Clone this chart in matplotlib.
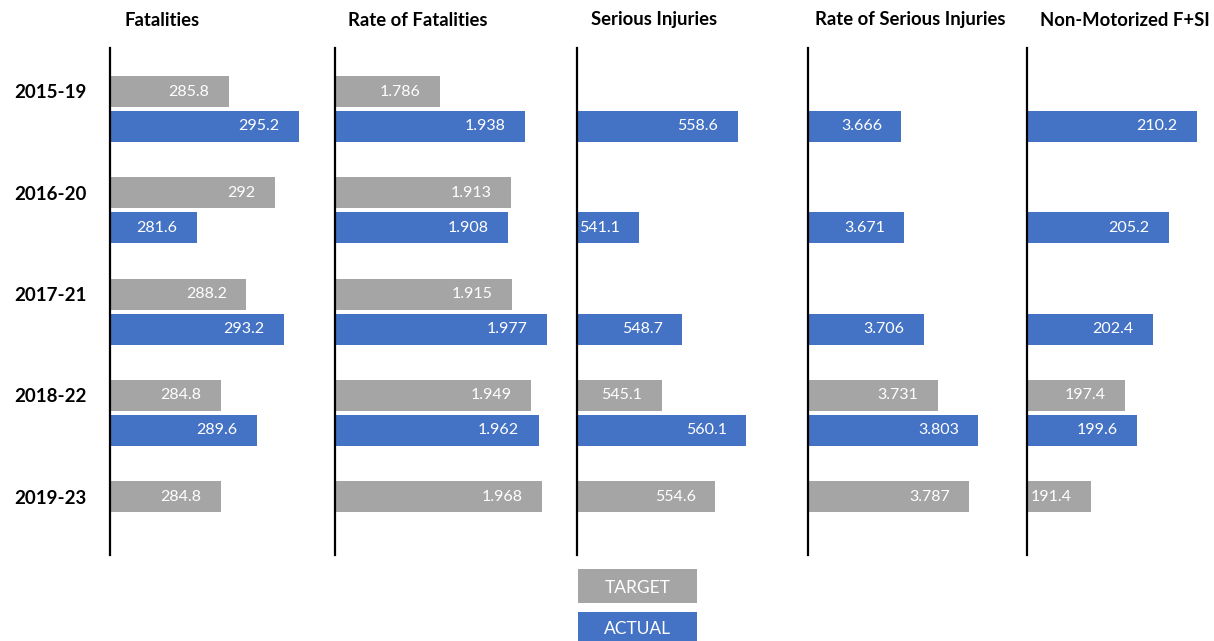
import matplotlib
matplotlib.use("Agg")
import matplotlib.pyplot as plt
from matplotlib.patches import Rectangle
import numpy as np

plt.rcParams['font.family'] = ['Lato', 'DejaVu Sans']

periods = ["2015-19", "2016-20", "2017-21", "2018-22", "2019-23"]
titles = ["Fatalities", "Rate of Fatalities", "Serious Injuries",
          "Rate of Serious Injuries", "Non-Motorized F+SI"]

fat_target = [285.8, 292, 288.2, 284.8, 284.8]
fat_actual = [295.2, 281.6, 293.2, 289.6, None]
rfat_target = [1.786, 1.913, 1.915, 1.949, 1.968]
rfat_actual = [1.938, 1.908, 1.977, 1.962, None]
si_target = [None, None, None, 545.1, 554.6]
si_actual = [558.6, 541.1, 548.7, 560.1, None]
rsi_target = [None, None, None, 3.731, 3.787]
rsi_actual = [3.666, 3.671, 3.706, 3.803, None]
nm_target = [None, None, None, 197.4, 191.4]
nm_actual = [210.2, 205.2, 202.4, 199.6, None]

targets = [fat_target, rfat_target, si_target, rsi_target, nm_target]
actuals = [fat_actual, rfat_actual, si_actual, rsi_actual, nm_actual]
x_ranges = [(270, 300), (1.6, 2.0), (530, 570), (3.5, 3.9), (180, 220)]

GRAY = "#A5A5A5"
BLUE = "#4472C4"

W, H = 1214, 641
fig = plt.figure(figsize=(W / 100, H / 100), dpi=100)

axis_px = [110, 335, 577, 808, 1027]
title_off = [14, 13, 14, 7, 13]
panel_w = 225
top_px, bot_px = 48, 555
pitch = 101.25
center0 = 109.0
half_off = 17.5 / pitch
bar_h = 31 / pitch
y_top = (top_px - center0) / pitch
y_bot = (bot_px - center0) / pitch

for k in range(5):
    ax = fig.add_axes([axis_px[k] / W, 1 - bot_px / H, panel_w / W, (bot_px - top_px) / H])
    ax.set_xlim(*x_ranges[k])
    ax.set_ylim(y_bot, y_top)
    base = x_ranges[k][0]
    for series, color, off in [(targets[k], GRAY, -half_off), (actuals[k], BLUE, half_off)]:
        for i, v in enumerate(series):
            if v is None:
                continue
            ax.barh(i + off, v - base, left=base, height=bar_h, color=color,
                    edgecolor='none', zorder=2)
            ax.annotate(f"{v:g}", xy=(v, i + off), xytext=(-14, 0),
                        textcoords='offset points', ha='right', va='center',
                        color='white', fontsize=11.5, zorder=3)
    for s in ['top', 'right', 'bottom']:
        ax.spines[s].set_visible(False)
    ax.spines['left'].set_linewidth(1.6)
    ax.spines['left'].set_color('black')
    ax.set_xticks([])
    ax.set_yticks([])
    fig.text((axis_px[k] + title_off[k]) / W, 1 - 20 / H, titles[k], ha='left',
             va='center', fontsize=13.3, fontweight='bold', color='black')

for i, p in enumerate(periods):
    yc = center0 - 17.5 + pitch * i
    fig.text(50 / W, 1 - (yc + 1.5) / H, p, ha='center', va='center',
             fontsize=13.5, fontweight='bold', color='black')

# legend boxes
for (label, color, y0, y1) in [("TARGET", GRAY, 569, 603), ("ACTUAL", BLUE, 612, 645)]:
    fig.patches.append(Rectangle((578 / W, 1 - y1 / H), 119 / W, (y1 - y0) / H,
                                 transform=fig.transFigure, facecolor=color,
                                 edgecolor='none'))
    fig.text((578 + 59.5) / W, 1 - ((y0 + min(y1, 641)) / 2 + 2) / H, label,
             ha='center', va='center', color='white', fontsize=12.5)

fig.savefig("out.png", dpi=100)
